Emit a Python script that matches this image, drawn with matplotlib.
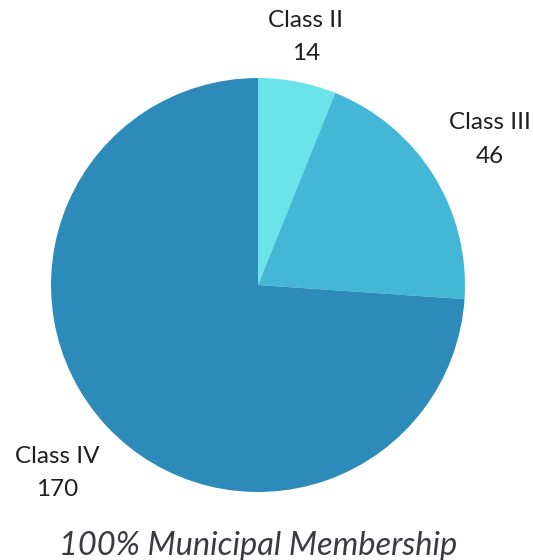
import numpy as np
import matplotlib.pyplot as plt

plt.rcParams['font.family'] = ['Lato', 'DejaVu Sans']

classes = ["Class II", "Class III", "Class IV"]
members = [14, 46, 170]
colors = ["#69E4E8", "#42B8D6", "#2D8BB9"]
label_dist = [1.22, 1.32, 1.33]

fig = plt.figure(figsize=(5.33, 5.6), dpi=100)
ax = fig.add_axes([51 / 533, 68 / 560, 414 / 533, 414 / 560])

wedges, _ = ax.pie(members, colors=colors, startangle=90, counterclock=False,
                   radius=1.0, wedgeprops=dict(linewidth=0))

for w, name, val, d in zip(wedges, classes, members, label_dist):
    mid = np.deg2rad((w.theta1 + w.theta2) / 2)
    ax.text(d * np.cos(mid), d * np.sin(mid), name + "\n" + str(val),
            ha="center", va="center", fontsize=17.5, color="#1e1e1e",
            linespacing=1.75)

ax.set_xlim(-1, 1)
ax.set_ylim(-1, 1)
ax.set_aspect("equal")
ax.axis("off")

fig.text(258 / 533, 1 - 546 / 560, "100% Municipal Membership", ha="center",
         va="center", fontsize=23.5, style="italic", color="#3a3a42")

fig.savefig("out.png", dpi=100)
